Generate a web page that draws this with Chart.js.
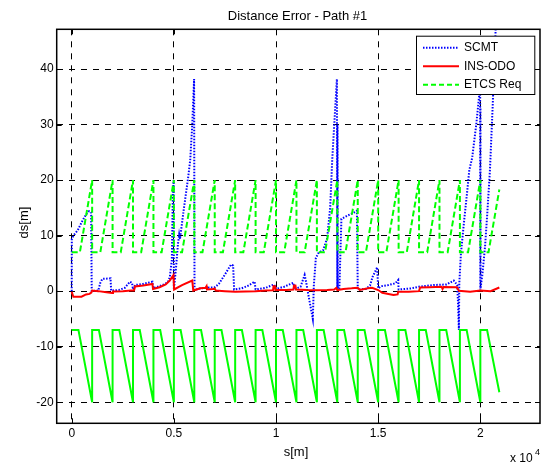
<!DOCTYPE html>
<html>
<head>
<meta charset="utf-8">
<script src="https://cdn.jsdelivr.net/npm/chart.js@4.4.0/dist/chart.umd.min.js"></script>
<style>
  html, body { margin: 0; padding: 0; background: #fff; }
  canvas { display: block; }
</style>
</head>
<body>
<canvas id="errChart" width="544" height="463"></canvas>
<script>
// axes
const xTicks = [0, 5000, 10000, 15000, 20000];
const xTickLabels = ['0', '0.5', '1', '1.5', '2'];
const yTicks = [-20, -10, 0, 10, 20, 30, 40];

// SCMT (blue dotted)
const scmtX = [0, 5, 60, 150, 300, 500, 700, 850, 950, 980,
  1300, 1400, 1500, 1900, 1930, 2300, 2600, 2850, 2950, 3000,
  3100, 3500, 3950, 4000, 4500, 4700, 4800, 4900, 4950, 4990, 5000,
  5100, 5200, 5260, 5300, 5480, 5700, 5800, 5900, 5990, 6010,
  6300, 6600, 7000, 7200, 7500, 7800, 7900, 7950,
  8300, 8600, 8950, 9000, 9500, 9900, 9950, 10000,
  10400, 10850, 10900, 11200, 11400, 11480, 11550, 11800, 11850, 11950,
  12100, 12300, 12500, 12650, 12750, 12850, 12980, 13000, 13010, 13020,
  13100, 13200, 13500, 13900, 13960, 14000,
  14400, 14600, 14730, 14950, 15000, 15150, 15500, 15830, 15980, 16000,
  16630, 17000, 17700, 18350, 18700, 18870, 18900, 18950, 18970, 19050,
  19210, 19330, 19460, 19600, 19800, 19950, 19990, 20000, 20005, 20010,
  20100, 20230, 20340, 20470, 20600, 20750, 20850];
const scmtY = [0, 9.4, 9.8, 10.3, 11.0, 12.5, 13.8, 14.4, 14.2, 0.0,
  0.1, 1.5, 2.2, 2.3, 0.1, 0.2, 0.6, 1.7, 1.5, 0.3,
  1.1, 1.3, 1.7, 0.5, 1.2, 1.6, 2.5, 5.6, 17.6, 20.0, 0.3,
  4.0, 8.5, 10.2, 9.4, 14.6, 20.5, 23.6, 30.0, 38.2, 0.2,
  0.5, 0.6, 0.7, 1.3, 3.0, 4.8, 4.6, 0.3,
  0.5, 0.9, 1.7, 0.3, 0.6, 1.2, 0.9, 0.4,
  0.8, 1.5, 0.3, 0.8, 2.9, 1.5, 0.0, -5.0, 1.0, 6.0,
  7.0, 7.3, 9.5, 15.0, 23.6, 30.0, 38.2, 0.2, 30.0, 0.5,
  0.5, 13.0, 13.6, 14.3, 14.5, 0.3,
  0.4, 1.0, 2.6, 4.3, 0.5, 0.9, 1.1, 1.4, 2.0, 0.3,
  0.5, 0.8, 1.1, 1.2, 1.9, 1.1, -1.5, -7.0, 1.4, 6.8,
  12.8, 17.0, 21.8, 24.0, 30.0, 35.5, 36.0, 0.3, 33.0, 0.5,
  3.0, 8.0, 14.0, 21.8, 33.0, 47.2, 56.0];

// INS-ODO (red)
const insX = [0, 80, 480, 700, 870, 960, 1000, 1300, 1700, 1980, 2020,
  2500, 2900, 3050, 3100, 3500, 3950, 3980, 4300, 4600, 4800, 4980, 5010,
  5400, 5900, 5950, 6300, 6550, 6600, 6620, 6900, 7000, 7050, 7500, 8000,
  8500, 9000, 9500, 9850, 9880, 9950, 9970, 10500, 10850, 10880, 10950, 10980,
  11500, 12000, 12500, 12850, 12950, 13000, 13300, 13700, 14000, 14100, 14500,
  14700, 15000, 15200, 15500, 15750, 15950, 15980, 16500, 17000, 17050, 17500,
  18100, 18150, 18200, 18850, 18950, 19500, 20000, 20500, 20930];
const insY = [-0.1, -1.0, -1.0, -0.6, -0.5, -0.25, 0.1, 0.0, -0.2, -0.35, -0.05,
  0.0, 0.1, 0.1, 0.85, 1.0, 1.3, 0.4, 0.7, 1.2, 1.9, 2.9, 0.3,
  1.1, 1.9, 0.1, 0.5, 0.6, 0.9, 0.3, 0.4, 0.45, 0.1, 0.0, -0.1,
  -0.05, 0.0, 0.1, 0.15, 0.9, 0.85, 0.2, 0.2, 0.3, 1.0, 1.0, 0.3,
  0.2, 0.15, 0.2, 0.3, 0.6, 0.2, 0.4, 0.5, 0.6, 0.2, 0.5,
  0.6, 0.2, -0.3, -0.5, -0.7, -0.6, -0.1, -0.1, 0.0, 0.65, 0.7,
  0.8, 0.4, 0.75, 0.7, 0.05, -0.1, 0.1, 0.0, 0.65];

// ETCS Req upper bound (green dashed)
const etcsUpX = [0, 400, 1000, 1000, 1400, 2000, 2000, 2400, 3000,
  3000, 3400, 4000, 4000, 4400, 5000, 5000, 5400, 6000,
  6000, 6400, 7000, 7000, 7400, 8000, 8000, 8400, 9000,
  9000, 9400, 10000, 10000, 10400, 11000, 11000, 11400, 12000,
  12000, 12400, 13000, 13000, 13400, 14000, 14000, 14400, 15000,
  15000, 15400, 16000, 16000, 16400, 17000, 17000, 17400, 18000,
  18000, 18400, 19000, 19000, 19400, 20000, 20000, 20400, 20930];
const etcsUpY = [7, 7, 20, 7, 7, 20, 7, 7, 20,
  7, 7, 20, 7, 7, 20, 7, 7, 20,
  7, 7, 20, 7, 7, 20, 7, 7, 20,
  7, 7, 20, 7, 7, 20, 7, 7, 20,
  7, 7, 20, 7, 7, 20, 7, 7, 20,
  7, 7, 20, 7, 7, 20, 7, 7, 20,
  7, 7, 20, 7, 7, 20, 7, 7, 18.3];

// ETCS Req lower bound (green solid)
const etcsLoX = [0, 330, 1000, 1000, 1330, 2000, 2000, 2330, 3000,
  3000, 3330, 4000, 4000, 4330, 5000, 5000, 5330, 6000,
  6000, 6330, 7000, 7000, 7330, 8000, 8000, 8330, 9000,
  9000, 9330, 10000, 10000, 10330, 11000, 11000, 11330, 12000,
  12000, 12330, 13000, 13000, 13330, 14000, 14000, 14330, 15000,
  15000, 15330, 16000, 16000, 16330, 17000, 17000, 17330, 18000,
  18000, 18330, 19000, 19000, 19330, 20000, 20000, 20330, 20930];
const etcsLoY = [-7, -7, -20, -7, -7, -20, -7, -7, -20,
  -7, -7, -20, -7, -7, -20, -7, -7, -20,
  -7, -7, -20, -7, -7, -20, -7, -7, -20,
  -7, -7, -20, -7, -7, -20, -7, -7, -20,
  -7, -7, -20, -7, -7, -20, -7, -7, -20,
  -7, -7, -20, -7, -7, -20, -7, -7, -20,
  -7, -7, -20, -7, -7, -20, -7, -7, -18.2];

const toPoints = (xs, ys) => xs.map((x, i) => ({ x: x, y: ys[i] }));
const FONT = '"Liberation Sans", Arial, Helvetica, sans-serif';

function lineSet(label, xs, ys, color, width, dash) {
  return {
    label: label,
    data: toPoints(xs, ys),
    showLine: true,
    borderColor: color,
    backgroundColor: color,
    borderWidth: width,
    borderDash: dash,
    pointRadius: 0,
    tension: 0,
  };
}

// legend entries drawn inside the axes, like matlab does
const legendItems = [
  { text: 'SCMT', color: '#0000ff', width: 2, dash: [1.5, 1.5] },
  { text: 'INS-ODO', color: '#ff0000', width: 2, dash: [] },
  { text: 'ETCS Req', color: '#00ff00', width: 2, dash: [5, 3] },
];

const matlabFrame = {
  id: 'matlabFrame',
  afterDraw(chart) {
    const { ctx, chartArea: a, scales } = chart;
    ctx.save();
    ctx.strokeStyle = '#000';
    ctx.fillStyle = '#000';

    // inner tick marks
    ctx.lineWidth = 1;
    ctx.beginPath();
    xTicks.forEach(v => {
      const px = Math.round(scales.x.getPixelForValue(v)) + 0.5;
      ctx.moveTo(px, a.bottom); ctx.lineTo(px, a.bottom - 5);
      ctx.moveTo(px, a.top); ctx.lineTo(px, a.top + 5);
    });
    yTicks.forEach(v => {
      const py = Math.round(scales.y.getPixelForValue(v)) + 0.5;
      ctx.moveTo(a.left, py); ctx.lineTo(a.left + 5, py);
      ctx.moveTo(a.right, py); ctx.lineTo(a.right - 5, py);
    });
    ctx.stroke();

    // axes box
    ctx.lineWidth = 1.5;
    ctx.strokeRect(a.left, a.top, a.right - a.left, a.bottom - a.top);

    // title and axis labels
    ctx.font = '13px ' + FONT;
    ctx.textAlign = 'center';
    ctx.textBaseline = 'alphabetic';
    ctx.fillText('Distance Error - Path #1', 297.5, 19.5);
    ctx.fillText('s[m]', 296, 456);
    ctx.save();
    ctx.translate(27.5, 222.5);
    ctx.rotate(-Math.PI / 2);
    ctx.fillText('ds[m]', 0, 0);
    ctx.restore();

    // exponent of the x axis
    ctx.textAlign = 'left';
    ctx.font = '12px ' + FONT;
    ctx.fillText('x 10', 510, 462);
    ctx.font = '9px ' + FONT;
    ctx.fillText('4', 535, 455);

    // legend
    const bx = 416, by = 35.7, bw = 118.3, bh = 58.3;
    ctx.fillStyle = '#fff';
    ctx.fillRect(bx, by, bw, bh);
    ctx.lineWidth = 1;
    ctx.strokeStyle = '#000';
    ctx.strokeRect(bx + 0.5, by + 0.5, bw, bh);
    ctx.font = '12px ' + FONT;
    ctx.textBaseline = 'middle';
    legendItems.forEach((it, i) => {
      const y = by + 12 + i * 18.5;
      ctx.save();
      ctx.strokeStyle = it.color;
      ctx.lineWidth = it.width;
      ctx.setLineDash(it.dash);
      ctx.beginPath();
      ctx.moveTo(423, y); ctx.lineTo(459, y);
      ctx.stroke();
      ctx.restore();
      ctx.fillStyle = '#000';
      ctx.fillText(it.text, 464, y);
    });
    ctx.restore();
  }
};

const ctx = document.getElementById('errChart').getContext('2d');
const errChart = new Chart(ctx, {
  type: 'scatter',
  data: {
    datasets: [
      lineSet('ETCS Req', etcsUpX, etcsUpY, '#00ff00', 2, [6, 3]),
      lineSet('ETCS Req low', etcsLoX, etcsLoY, '#00ff00', 2, []),
      lineSet('INS-ODO', insX, insY, '#ff0000', 2, []),
      lineSet('SCMT', scmtX, scmtY, '#0000ff', 2, [1.5, 1.5]),
    ],
  },
  options: {
    responsive: false,
    animation: false,
    devicePixelRatio: 1,
    layout: { padding: { top: 29.3, right: 4, left: 0, bottom: 0 } },
    plugins: {
      legend: { display: false },
      tooltip: { enabled: false },
    },
    scales: {
      x: {
        type: 'linear',
        min: -735,
        max: 22920,
        afterBuildTicks: s => { s.ticks = xTicks.map(v => ({ value: v })); },
        afterFit: s => { s.height = 39.7; },
        ticks: {
          color: '#000',
          padding: 3,
          maxRotation: 0,
          font: { family: FONT, size: 12 },
          callback: v => xTickLabels[xTicks.indexOf(v)],
        },
        grid: { color: '#000', lineWidth: 1, drawTicks: false },
        border: { display: false, dash: [6, 6] },
      },
      y: {
        type: 'linear',
        min: -23.8,
        max: 47.15,
        afterBuildTicks: s => { s.ticks = yTicks.map(v => ({ value: v })); },
        afterFit: s => { s.width = 56.7; },
        ticks: {
          color: '#000',
          padding: 3,
          font: { family: FONT, size: 12 },
        },
        grid: { color: '#000', lineWidth: 1, drawTicks: false },
        border: { display: false, dash: [6, 6] },
      },
    },
  },
  plugins: [matlabFrame],
});
</script>
</body>
</html>
